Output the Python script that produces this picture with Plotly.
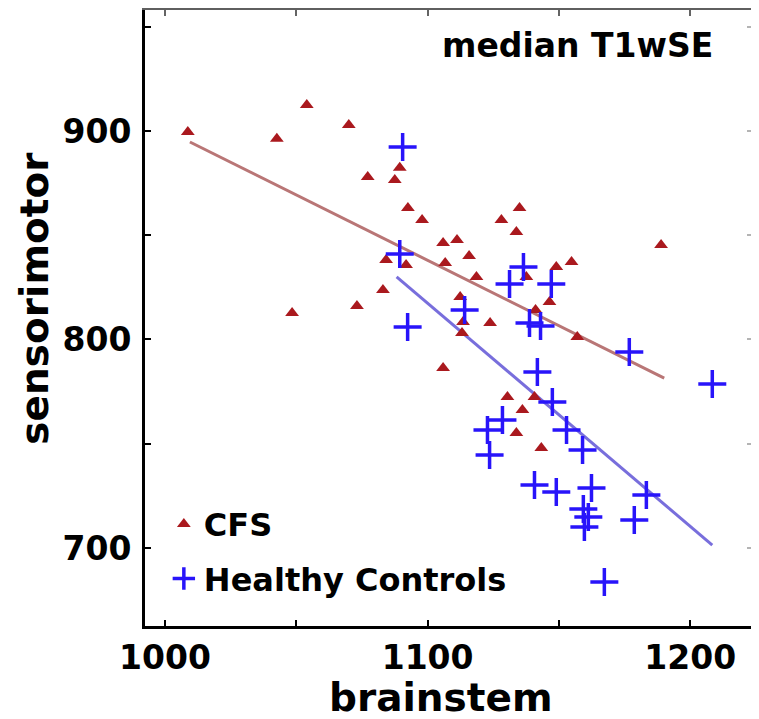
import plotly.graph_objects as go

# CFS group (triangles)
cfs_x = [1008.7, 1054.0, 1042.6, 1070.0, 1077.2, 1089.4, 1087.5, 1092.5, 1097.9, 1105.9,
         1111.2, 1115.8, 1106.7, 1084.2, 1091.8, 1083.0, 1073.1, 1048.4, 1112.4, 1113.1,
         1113.5, 1123.8, 1105.9, 1128.1, 1135.0, 1133.8, 1118.6, 1154.8, 1149.0, 1137.6,
         1146.4, 1141.1, 1157.0, 1188.9, 1130.4, 1140.7, 1136.1, 1133.8, 1143.3]
cfs_y = [899.5, 912.5, 896.2, 902.9, 877.9, 882.3, 876.5, 863.1, 857.3, 846.3,
         847.7, 840.0, 836.7, 838.1, 835.7, 823.7, 816.1, 812.7, 820.4, 803.1,
         808.4, 807.9, 786.3, 857.3, 863.1, 851.6, 830.0, 837.2, 834.8, 830.0,
         818.0, 814.1, 801.2, 845.3, 772.4, 772.4, 766.2, 755.2, 747.9]

# Healthy controls (crosses)
hc_x = [1090.5, 1089.4, 1092.4, 1114.1, 1136.5, 1131.2, 1147.1, 1138.8, 1143.0, 1141.8,
        1147.5, 1176.8, 1208.4, 1128.5, 1122.8, 1123.6, 1152.9, 1159.0, 1140.7, 1149.0,
        1162.4, 1159.3, 1161.2, 1159.7, 1183.3, 1178.7, 1167.3]
hc_y = [892.3, 841.0, 806.0, 814.1, 834.8, 826.6, 826.6, 807.9, 806.5, 784.4,
        770.0, 794.0, 778.7, 761.4, 756.6, 744.6, 756.6, 747.0, 730.2, 726.9,
        728.8, 718.7, 714.9, 710.1, 725.4, 713.4, 683.7]

# fitted regression line end points
cfs_fit_x = [1009.5, 1190.1]
cfs_fit_y = [894.7, 781.5]
hc_fit_x = [1088.2, 1208.4]
hc_fit_y = [830.0, 701.4]

x_tickvals = [1000, 1050, 1100, 1150, 1200]
x_ticktext = ["1000", "", "1100", "", "1200"]
y_tickvals = [700, 750, 800, 850, 900, 950]
y_ticktext = ["700", "", "800", "", "900", ""]

X_RANGE = [992.4, 1223.9]
Y_RANGE = [662.6, 958.0]

FONT = "DejaVu Sans"

fig = go.Figure()
fig.add_trace(go.Scatter(x=cfs_fit_x, y=cfs_fit_y, mode="lines",
                         line=dict(color="rgb(185,118,118)", width=3),
                         showlegend=False, hoverinfo="skip"))
fig.add_trace(go.Scatter(x=hc_fit_x, y=hc_fit_y, mode="lines",
                         line=dict(color="rgb(120,110,220)", width=3),
                         showlegend=False, hoverinfo="skip"))
fig.add_trace(go.Scatter(x=cfs_x, y=cfs_y, mode="markers", name="CFS",
                         legendgroup="cfs",
                         marker=dict(symbol="triangle-up", size=12,
                                     color="rgb(170,25,30)", line=dict(width=0))))
fig.add_trace(go.Scatter(x=hc_x, y=hc_y, mode="markers", name="Healthy Controls",
                         legendgroup="hc",
                         marker=dict(symbol="cross-thin", size=20,
                                     line=dict(color="rgb(40,20,250)", width=3.5))))
# invisible trace to activate the overlay (top / right) frame axes
fig.add_trace(go.Scatter(x=X_RANGE, y=Y_RANGE, xaxis="x2", yaxis="y2",
                         mode="markers", marker=dict(opacity=0), showlegend=False,
                         hoverinfo="skip"))

tickfont = dict(family=FONT, size=33, color="black", weight="bold")
titlefont = dict(family=FONT, size=39, color="black", weight="bold")

fig.update_layout(
    width=751, height=711,
    margin=dict(l=137, r=6, t=2, b=93),
    paper_bgcolor="white", plot_bgcolor="white",
    font=dict(family=FONT, color="black"),
    xaxis=dict(range=X_RANGE, tickvals=x_tickvals, ticktext=x_ticktext,
               ticks="inside", ticklen=6, tickwidth=2, tickcolor="black",
               showline=True, linecolor="black", linewidth=3, mirror=False,
               showgrid=False, zeroline=False, tickfont=tickfont, automargin=False,
               ticklabelstandoff=0),
    yaxis=dict(range=Y_RANGE, tickvals=y_tickvals, ticktext=y_ticktext,
               ticks="inside", ticklen=6, tickwidth=2, tickcolor="black",
               showline=True, linecolor="black", linewidth=3, mirror=False,
               showgrid=False, zeroline=False, tickfont=tickfont, automargin=False,
               ticklabelstandoff=4),
    xaxis2=dict(range=X_RANGE, overlaying="x", side="top", anchor="y2",
                tickvals=x_tickvals, showticklabels=False, ticks="inside", ticklen=6,
                tickwidth=2, tickcolor="rgb(100,100,100)", showline=True,
                linecolor="rgb(95,95,95)", linewidth=3, showgrid=False,
                zeroline=False, automargin=False),
    yaxis2=dict(range=Y_RANGE, overlaying="y", side="right", anchor="x2",
                tickvals=y_tickvals, showticklabels=False, ticks="inside", ticklen=6,
                tickwidth=2, tickcolor="rgb(180,180,180)", showline=True,
                linecolor="rgb(205,205,205)", linewidth=2, showgrid=False,
                zeroline=False, automargin=False),
    legend=dict(x=0.031, y=0.21, xanchor="left", yanchor="top",
                bgcolor="rgba(0,0,0,0)",
                font=dict(family=FONT, size=32, color="black", weight="bold"),
                tracegroupgap=10, itemwidth=30),
    annotations=[
        dict(text="median T1wSE", xref="paper", yref="paper",
             x=0.938, y=0.978, xanchor="right", yanchor="top", showarrow=False,
             font=dict(family=FONT, size=33, color="black", weight="bold")),
        dict(text="brainstem", xref="paper", yref="paper",
             x=0.487, y=-0.116, xanchor="center", yanchor="middle", showarrow=False,
             font=titlefont),
        dict(text="sensorimotor", xref="paper", yref="paper", textangle=-90,
             x=-0.182, y=0.532, xanchor="center", yanchor="middle", showarrow=False,
             font=titlefont),
    ],
    showlegend=True,
)

fig.write_html("out.html")
